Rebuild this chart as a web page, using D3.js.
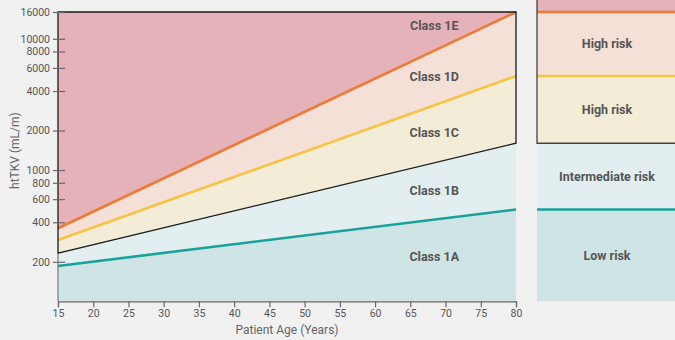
<!DOCTYPE html>
<html><head><meta charset="utf-8">
<script src="https://cdn.jsdelivr.net/npm/d3@7"></script>
<style>
html,body{margin:0;padding:0;background:#f1f1f1;}
svg{display:block;font-family:Roboto, "Open Sans", sans-serif;}
</style></head>
<body><svg id="c" width="675" height="340"></svg>
<script>
// ---- data ----
const ages = [15, 80];
const line1A1B = [186, 500];   // teal boundary
const line1B1C = [233, 1600];  // black boundary
const line1C1D = [293, 5200];  // yellow boundary
const line1D1E = [360, 16000]; // orange boundary
const yTicks = [200, 400, 600, 800, 1000, 2000, 4000, 6000, 8000, 10000, 16000];
const xTicks = [15,20,25,30,35,40,45,50,55,60,65,70,75,80];
const classLabels = ["Class 1E", "Class 1D", "Class 1C", "Class 1B", "Class 1A"];
const classLabelAge = 68.4;
const classLabelValues = [12500, 5150, 1930, 696, 219];
const riskLabels = ["High risk", "High risk", "Intermediate risk", "Low risk"];
const yMin = 100, yMax = 16000;

const svg = d3.select("#c");
const x = d3.scaleLinear().domain([15, 80]).range([58, 516]);
const y = d3.scaleLog().domain([yMin, yMax]).range([301.3, 12]);

const colors = {
  e: "#e5b2b9", d: "#f4e0d6", c: "#f3ecd6", b: "#e2eeef", a: "#cfe5e5"
};
const topVals = ages.map(() => yMax), bottomVals = ages.map(() => yMin);
const bands = [
  {lo: bottomVals, hi: line1A1B, fill: colors.a},
  {lo: line1A1B, hi: line1B1C, fill: colors.b},
  {lo: line1B1C, hi: line1C1D, fill: colors.c},
  {lo: line1C1D, hi: line1D1E, fill: colors.d},
  {lo: line1D1E, hi: topVals, fill: colors.e}
];
const area = d3.area().x(d => x(d.age)).y0(d => y(d.lo)).y1(d => y(d.hi));
bands.forEach(b => {
  svg.append("path")
    .datum(ages.map((a, i) => ({age: a, lo: b.lo[i], hi: b.hi[i]})))
    .attr("d", area).attr("fill", b.fill);
});

const line = d3.line().x(d => x(d.age)).y(d => y(d.v));
const mk = arr => ages.map((a, i) => ({age: a, v: arr[i]}));
svg.append("path").datum(mk(line1A1B)).attr("d", line).attr("stroke", "#17a39b").attr("stroke-width", 2.6).attr("fill", "none");
svg.append("path").datum(mk(line1C1D)).attr("d", line).attr("stroke", "#f6c343").attr("stroke-width", 2.6).attr("fill", "none");
svg.append("path").datum(mk(line1D1E)).attr("d", line).attr("stroke", "#ee7a38").attr("stroke-width", 2.6).attr("fill", "none");

// black outline around classes 1C-1E
const outline = [
  [x(ages[0]), y(yMax)], [x(ages[1]), y(yMax)],
  [x(ages[1]), y(line1B1C[1])], [x(ages[0]), y(line1B1C[0])]
];
svg.append("path").attr("d", d3.line()(outline) + "Z").attr("fill", "none").attr("stroke", "#1b1b1b").attr("stroke-width", 1.3);

// axes
const gx = svg.append("g").attr("transform", `translate(0,${y(yMin)})`)
  .call(d3.axisBottom(x).tickValues(xTicks).tickSize(6).tickPadding(2));
const gy = svg.append("g").attr("transform", `translate(${x(15)},0)`)
  .call(d3.axisLeft(y).tickValues(yTicks).tickFormat(d3.format("d")).tickSize(5).tickPadding(3));
[gx, gy].forEach(g => {
  g.select(".domain").attr("stroke", "#666").attr("stroke-width", 1.2);
  g.selectAll(".tick line").attr("stroke", "#666").attr("stroke-width", 1.2);
  g.selectAll(".tick text").attr("fill", "#555").attr("font-size", 10.5).attr("font-family", "Roboto, sans-serif");
});
gy.selectAll(".tick line").attr("x2", 7).attr("x1", -5);
gy.select(".domain").remove();
svg.append("line").attr("x1", x(15)).attr("x2", x(15)).attr("y1", y(line1B1C[0])).attr("y2", y(yMin)).attr("stroke", "#777").attr("stroke-width", 1.2);

svg.append("text").attr("x", (x(15) + x(80)) / 2).attr("y", 334).attr("text-anchor", "middle")
  .attr("fill", "#666").attr("font-size", 12).text("Patient Age (Years)");
svg.append("text").attr("transform", `translate(19,${(y(yMin)+y(yMax))/2 - 6}) rotate(-90)`).attr("text-anchor", "middle")
  .attr("fill", "#666").attr("font-size", 12).text("htTKV (mL/m)");

// class labels
classLabels.forEach((t, i) => {
  svg.append("text").attr("x", x(classLabelAge)).attr("y", y(classLabelValues[i])).attr("dy", "0.35em")
    .attr("text-anchor", "middle").attr("font-weight", "bold").attr("font-size", 12.5).attr("fill", "#555").text(t);
});

// right risk panel (thresholds at age 80)
const px0 = 537, px1 = 690;
const thr = [yMin, line1A1B[1], line1B1C[1], line1C1D[1], line1D1E[1]];
const pBands = [
  {y0: y(thr[0]), y1: y(thr[1]), fill: colors.a},
  {y0: y(thr[1]), y1: y(thr[2]), fill: colors.b},
  {y0: y(thr[2]), y1: y(thr[3]), fill: colors.c},
  {y0: y(thr[3]), y1: y(thr[4]), fill: colors.d},
  {y0: y(thr[4]), y1: -5, fill: colors.e}
];
pBands.forEach(b => {
  svg.append("rect").attr("x", px0).attr("width", px1 - px0).attr("y", b.y1).attr("height", b.y0 - b.y1).attr("fill", b.fill);
});
svg.append("line").attr("x1", px0).attr("x2", px1).attr("y1", y(thr[1])).attr("y2", y(thr[1])).attr("stroke", "#17a39b").attr("stroke-width", 2.6);
svg.append("line").attr("x1", px0).attr("x2", px1).attr("y1", y(thr[3])).attr("y2", y(thr[3])).attr("stroke", "#f6c343").attr("stroke-width", 2.6);
svg.append("line").attr("x1", px0).attr("x2", px1).attr("y1", y(thr[4])).attr("y2", y(thr[4])).attr("stroke", "#ee7a38").attr("stroke-width", 2.6);
svg.append("path").attr("d", `M${px0},-5V${y(thr[2])}H${px1}`).attr("fill", "none").attr("stroke", "#444").attr("stroke-width", 1.3);

const riskMid = [
  (y(thr[4]) + y(thr[3])) / 2, (y(thr[3]) + y(thr[2])) / 2,
  (y(thr[2]) + y(thr[1])) / 2, (y(thr[1]) + y(thr[0])) / 2
];
riskLabels.forEach((t, i) => {
  svg.append("text").attr("x", 607).attr("y", riskMid[i]).attr("dy", "0.35em")
    .attr("text-anchor", "middle").attr("font-weight", "bold").attr("font-size", 12.5).attr("fill", "#555").text(t);
});
</script></body></html>
